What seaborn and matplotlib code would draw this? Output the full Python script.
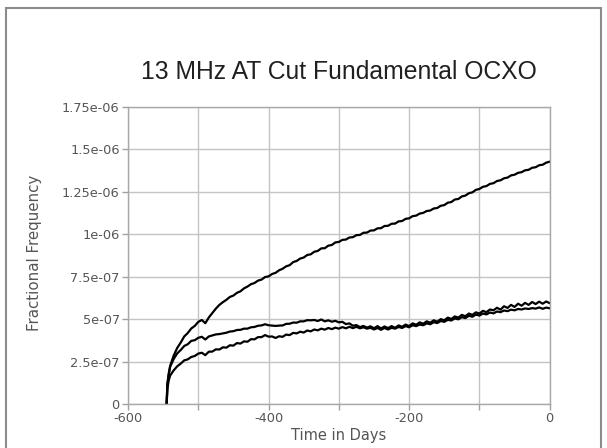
import matplotlib
matplotlib.use("Agg")
import matplotlib.pyplot as plt
from matplotlib.patches import Rectangle
import seaborn as sns
import pandas as pd

# Elapsed time (days before the last reading)
days = [
    -545, -544, -542, -540, -535, -530, -525, -520, -515, -510,
    -505, -500, -495, -490, -485, -480, -475, -470, -465, -460,
    -455, -450, -445, -440, -435, -430, -425, -420, -415, -410,
    -405, -400, -395, -390, -385, -380, -375, -370, -365, -360,
    -355, -350, -345, -340, -335, -330, -325, -320, -315, -310,
    -305, -300, -295, -290, -285, -280, -275, -270, -265, -260,
    -255, -250, -245, -240, -235, -230, -225, -220, -215, -210,
    -205, -200, -195, -190, -185, -180, -175, -170, -165, -160,
    -155, -150, -145, -140, -135, -130, -125, -120, -115, -110,
    -105, -100, -95, -90, -85, -80, -75, -70, -65, -60,
    -55, -50, -45, -40, -35, -30, -25, -20, -15, -10,
    -5, 0,
]

# Fractional frequency offset of each oscillator, in units of 1e-7
osc_a = [
    0.0, 1.2, 1.8, 2.25, 2.85, 3.3, 3.62, 3.98, 4.18, 4.45,
    4.6, 4.84, 4.95, 4.76, 5.1, 5.36, 5.62, 5.84, 6.0, 6.14,
    6.31, 6.39, 6.55, 6.64, 6.81, 6.92, 7.06, 7.13, 7.27, 7.33,
    7.48, 7.52, 7.66, 7.73, 7.88, 7.97, 8.11, 8.18, 8.36, 8.43,
    8.57, 8.63, 8.78, 8.82, 8.97, 9.02, 9.17, 9.18, 9.33, 9.37,
    9.52, 9.55, 9.67, 9.69, 9.81, 9.83, 9.95, 9.96, 10.09, 10.1,
    10.22, 10.23, 10.35, 10.36, 10.49, 10.5, 10.62, 10.63, 10.76, 10.78,
    10.91, 10.94, 11.07, 11.1, 11.22, 11.26, 11.37, 11.4, 11.52, 11.55,
    11.68, 11.72, 11.86, 11.9, 12.05, 12.08, 12.23, 12.28, 12.42, 12.47,
    12.62, 12.67, 12.8, 12.84, 12.97, 13.01, 13.14, 13.18, 13.3, 13.34,
    13.47, 13.51, 13.62, 13.66, 13.77, 13.8, 13.92, 13.95, 14.07, 14.1,
    14.22, 14.28,
]
osc_b = [
    0.0, 1.1, 1.75, 2.2, 2.65, 2.98, 3.18, 3.42, 3.52, 3.72,
    3.76, 3.9, 3.96, 3.8, 3.98, 4.04, 4.1, 4.12, 4.16, 4.2,
    4.27, 4.29, 4.36, 4.37, 4.44, 4.44, 4.52, 4.54, 4.61, 4.63,
    4.7, 4.64, 4.62, 4.6, 4.62, 4.63, 4.72, 4.73, 4.8, 4.79,
    4.87, 4.87, 4.94, 4.93, 4.95, 4.89, 4.98, 4.87, 4.93, 4.85,
    4.9, 4.81, 4.84, 4.71, 4.75, 4.61, 4.65, 4.53, 4.6, 4.5,
    4.58, 4.46, 4.59, 4.45, 4.57, 4.47, 4.59, 4.49, 4.63, 4.55,
    4.68, 4.59, 4.75, 4.67, 4.81, 4.73, 4.87, 4.79, 4.93, 4.85,
    5.0, 4.93, 5.09, 5.01, 5.16, 5.09, 5.25, 5.17, 5.33, 5.25,
    5.4, 5.33, 5.49, 5.41, 5.57, 5.52, 5.67, 5.56, 5.76, 5.66,
    5.84, 5.72, 5.91, 5.79, 5.96, 5.84, 6.01, 5.89, 6.03, 5.91,
    6.04, 5.94,
]
osc_c = [
    0.0, 0.9, 1.4, 1.68, 1.98, 2.22, 2.38, 2.57, 2.63, 2.77,
    2.83, 2.97, 3.02, 2.88, 3.08, 3.09, 3.22, 3.21, 3.34, 3.32,
    3.46, 3.44, 3.59, 3.56, 3.69, 3.67, 3.82, 3.81, 3.94, 3.94,
    4.06, 3.97, 3.98, 3.89, 3.99, 3.96, 4.09, 4.06, 4.19, 4.16,
    4.26, 4.21, 4.33, 4.28, 4.39, 4.34, 4.44, 4.38, 4.48, 4.41,
    4.5, 4.44, 4.53, 4.46, 4.55, 4.47, 4.55, 4.46, 4.52, 4.44,
    4.49, 4.39, 4.48, 4.37, 4.48, 4.39, 4.49, 4.44, 4.54, 4.48,
    4.59, 4.52, 4.64, 4.59, 4.68, 4.64, 4.75, 4.7, 4.82, 4.77,
    4.89, 4.84, 4.96, 4.92, 5.04, 4.99, 5.12, 5.06, 5.2, 5.14,
    5.27, 5.21, 5.33, 5.28, 5.39, 5.34, 5.45, 5.41, 5.51, 5.47,
    5.56, 5.52, 5.6, 5.57, 5.63, 5.6, 5.65, 5.62, 5.69, 5.61,
    5.68, 5.64,
]

y_ticks = [0, 2.5e-07, 5e-07, 7.5e-07, 1e-06, 1.25e-06, 1.5e-06, 1.75e-06]
y_tick_labels = ["0", "2.5e-07", "5e-07", "7.5e-07", "1e-06", "1.25e-06", "1.5e-06", "1.75e-06"]
x_ticks = [-600, -500, -400, -300, -200, -100, 0]
x_tick_labels = ["-600", "", "-400", "", "-200", "", "0"]

title = "13 MHz AT Cut Fundamental OCXO"
x_label = "Time in Days"
y_label = "Fractional Frequency"

df = pd.DataFrame({"day": days, "a": osc_a, "b": osc_b, "c": osc_c})
long = df.melt(id_vars="day", var_name="unit", value_name="offset")
long["offset"] = long["offset"] * 1e-7

sns.set_theme(style="white")
plt.rcParams["font.family"] = ["DejaVu Sans"]

fig = plt.figure(figsize=(6.07, 4.48), dpi=100)
fig.patch.set_facecolor("white")
ax = fig.add_axes([128 / 607, 1 - 404 / 448, (549.7 - 128) / 607, (404 - 107) / 448])

sns.lineplot(data=long, x="day", y="offset", units="unit", estimator=None,
             color="black", linewidth=1.6, sort=False, ax=ax)

ax.set_xlim(-600, 0)
ax.set_ylim(0, 1.75e-06)
ax.set_xticks(x_ticks)
ax.set_xticklabels(x_tick_labels)
ax.set_yticks(y_ticks)
ax.set_yticklabels(y_tick_labels)

grid_col = "#c4c4c4"
ax.grid(True, color=grid_col, linewidth=1.0)
ax.set_axisbelow(True)
for side in ["left", "bottom", "top", "right"]:
    ax.spines[side].set_visible(True)
    ax.spines[side].set_color("#a8a8a8")
    ax.spines[side].set_linewidth(1.0)

ax.tick_params(axis="both", which="major", direction="out", length=4, width=1,
               color="#a0a0a0", labelcolor="#555555", labelsize=9.3, pad=2,
               left=True, bottom=True)

ax.set_xlabel(x_label, fontsize=10.5, color="#555555", va="center")
ax.xaxis.set_label_coords(0.5, (404 - 435) / 297)
ax.set_ylabel(y_label, fontsize=10.8, color="#555555", va="center")
ax.yaxis.set_label_coords((35 - 128) / 421.7, 0.51)

fig.text(339 / 607, 1 - 72 / 448, title, ha="center", va="center",
         fontsize=17.8, color="#202020", family=["Liberation Sans", "DejaVu Sans"])

# Outer frame around the whole figure
frame = Rectangle((6 / 607, -0.05), (601 - 6) / 607, 1.05 - 8 / 448,
                  transform=fig.transFigure, fill=False,
                  edgecolor="#8c8c8c", linewidth=1.5)
fig.patches.append(frame)

fig.savefig("out.png", dpi=100)
